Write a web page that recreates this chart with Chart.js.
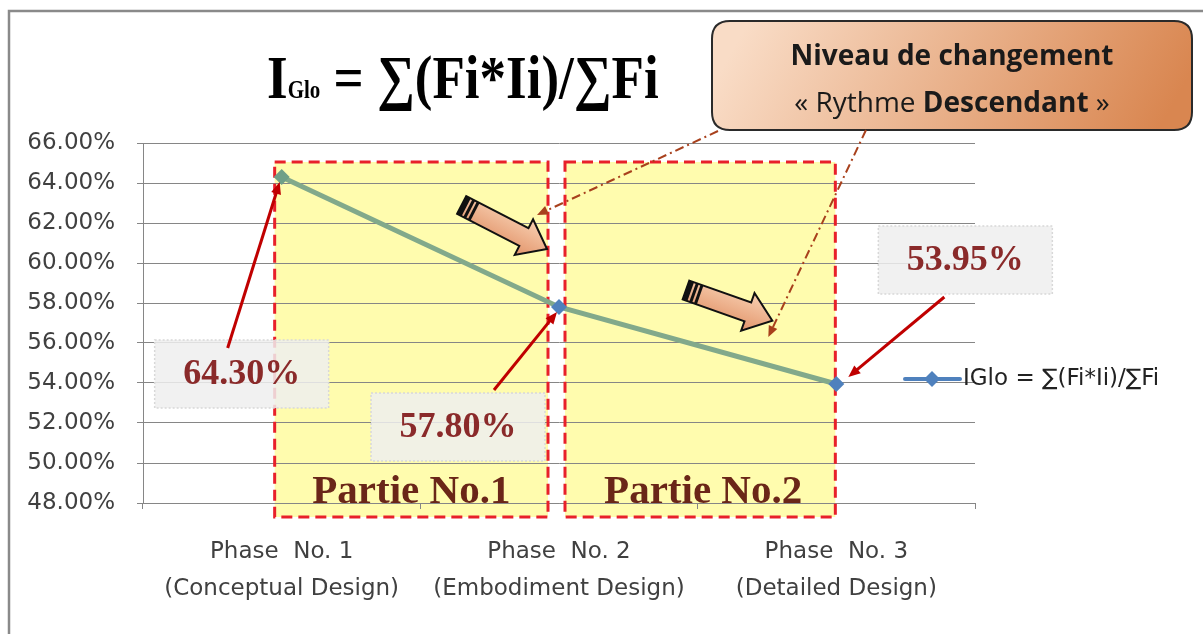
<!DOCTYPE html>
<html>
<head>
<meta charset="utf-8">
<script src="https://cdn.jsdelivr.net/npm/chart.js@4.4.1/dist/chart.umd.min.js"></script>
<style>
  html, body { margin: 0; padding: 0; background: #fff; }
  canvas { display: block; }
</style>
</head>
<body>
<canvas id="iglo" width="1203" height="634"></canvas>
<script>
// data
const phases = [
    ['Phase  No. 1', '(Conceptual Design)'],
    ['Phase  No. 2', '(Embodiment Design)'],
    ['Phase  No. 3', '(Detailed Design)']
];
const iGlo = [0.6430, 0.5780, 0.5395];
const yTicks = [0.48, 0.50, 0.52, 0.54, 0.56, 0.58, 0.60, 0.62, 0.64, 0.66];
const seriesName = 'IGlo = ∑(Fi*Ii)/∑Fi';
const parties = ['Partie No.1', 'Partie No.2'];
const calloutLines = ['Niveau de changement', '« Rythme ', 'Descendant', ' »'];

const pct = v => (v * 100).toFixed(2) + '%';
const axisFont = 'DejaVu Sans';

function arrowHead(ctx, x1, y1, x2, y2, size, color) {
    const a = Math.atan2(y2 - y1, x2 - x1);
    ctx.beginPath();
    ctx.moveTo(x2, y2);
    ctx.lineTo(x2 - size * Math.cos(a - 0.4), y2 - size * Math.sin(a - 0.4));
    ctx.lineTo(x2 - size * Math.cos(a + 0.4), y2 - size * Math.sin(a + 0.4));
    ctx.closePath();
    ctx.fillStyle = color;
    ctx.fill();
}

function lineArrow(ctx, x1, y1, x2, y2, color, width, dash, head) {
    ctx.save();
    ctx.strokeStyle = color;
    ctx.lineWidth = width;
    ctx.setLineDash(dash || []);
    const a = Math.atan2(y2 - y1, x2 - x1);
    ctx.beginPath();
    ctx.moveTo(x1, y1);
    ctx.lineTo(x2 - head * 0.7 * Math.cos(a), y2 - head * 0.7 * Math.sin(a));
    ctx.stroke();
    ctx.setLineDash([]);
    arrowHead(ctx, x1, y1, x2, y2, head, color);
    ctx.restore();
}

function blockArrow(ctx, x1, y1, x2, y2) {
    const a = Math.atan2(y2 - y1, x2 - x1);
    const L = Math.hypot(x2 - x1, y2 - y1);
    const w = 10, hw = 20, hl = 26;
    ctx.save();
    ctx.translate(x1, y1);
    ctx.rotate(a);
    const g = ctx.createLinearGradient(0, -hw, 0, hw);
    g.addColorStop(0, '#f8d0b2');
    g.addColorStop(1, '#e2946a');
    ctx.beginPath();
    ctx.moveTo(0, -w);
    ctx.lineTo(L - hl, -w);
    ctx.lineTo(L - hl, -hw);
    ctx.lineTo(L, 0);
    ctx.lineTo(L - hl, hw);
    ctx.lineTo(L - hl, w);
    ctx.lineTo(0, w);
    ctx.closePath();
    ctx.fillStyle = g;
    ctx.fill();
    ctx.lineWidth = 2;
    ctx.strokeStyle = '#111';
    ctx.stroke();
    ctx.fillStyle = '#111';
    ctx.fillRect(0, -w, 5, 2 * w);
    ctx.fillRect(7, -w, 3, 2 * w);
    ctx.fillRect(12, -w, 3, 2 * w);
    ctx.restore();
}

function roundRect(ctx, x, y, w, h, r) {
    ctx.beginPath();
    ctx.moveTo(x + r, y);
    ctx.lineTo(x + w - r, y);
    ctx.quadraticCurveTo(x + w, y, x + w, y + r);
    ctx.lineTo(x + w, y + h - r);
    ctx.quadraticCurveTo(x + w, y + h, x + w - r, y + h);
    ctx.lineTo(x + r, y + h);
    ctx.quadraticCurveTo(x, y + h, x, y + h - r);
    ctx.lineTo(x, y + r);
    ctx.quadraticCurveTo(x, y, x + r, y);
    ctx.closePath();
}

const decor = {
    id: 'decor',
    beforeDraw(chart) {
        const ctx = chart.ctx;
        const xs = chart.scales.x, ys = chart.scales.y;
        ctx.save();
        ctx.fillStyle = '#fff';
        ctx.fillRect(0, 0, chart.width, chart.height);
        // outer frame
        ctx.strokeStyle = '#8a8a8a';
        ctx.lineWidth = 2.5;
        ctx.beginPath();
        ctx.moveTo(9, chart.height + 5);
        ctx.lineTo(9, 11);
        ctx.lineTo(chart.width + 5, 11);
        ctx.stroke();
        // yellow parts
        const p0 = xs.getPixelForValue(0), p1 = xs.getPixelForValue(1), p2 = xs.getPixelForValue(2);
        const top = ys.getPixelForValue(0.6505), bot = chart.chartArea.bottom + 14;
        ctx.fillStyle = 'rgba(255, 251, 160, 0.85)';
        ctx.fillRect(p0 - 7, top, (p1 - 11) - (p0 - 7), bot - top);
        ctx.fillRect(p1 + 6, top, (p2 - 1) - (p1 + 6), bot - top);
        ctx.restore();
    },
    beforeDatasetsDraw(chart) {
        const ctx = chart.ctx;
        const xs = chart.scales.x, ys = chart.scales.y;
        const p0 = xs.getPixelForValue(0), p1 = xs.getPixelForValue(1), p2 = xs.getPixelForValue(2);
        const top = ys.getPixelForValue(0.6505), bot = chart.chartArea.bottom + 14;
        ctx.save();
        ctx.strokeStyle = '#e8202a';
        ctx.lineWidth = 3;
        ctx.setLineDash([11, 6]);
        ctx.strokeRect(p0 - 7, top, (p1 - 11) - (p0 - 7), bot - top);
        ctx.strokeRect(p1 + 6, top, (p2 - 1) - (p1 + 6), bot - top);
        ctx.restore();
    },
    afterDatasetsDraw(chart) {
        const ctx = chart.ctx;
        const xs = chart.scales.x, ys = chart.scales.y;
        const pts = chart.getDatasetMeta(0).data;
        const area = chart.chartArea;
        ctx.save();

        // Partie labels
        const p0 = xs.getPixelForValue(0), p1 = xs.getPixelForValue(1), p2 = xs.getPixelForValue(2);
        ctx.font = 'bold 41px "Liberation Serif"';
        ctx.fillStyle = '#6a2618';
        ctx.textAlign = 'center';
        ctx.textBaseline = 'alphabetic';
        ctx.fillText(parties[0], (p0 - 7 + p1 - 11) / 2, area.bottom);
        ctx.fillText(parties[1], (p1 + 6 + p2 - 1) / 2 + 3, area.bottom);

        // value label boxes (center x offset from point, center value on y axis)
        const boxes = [[-40, 0.5445], [-101, 0.518], [129, 0.6015]];
        const froms = [[-54, 0.5575], [-65, 0.5365], [108, 0.5830]];
        boxes.forEach((b, i) => {
            const cx = pts[i].x + b[0], cy = ys.getPixelForValue(b[1]);
            ctx.fillStyle = 'rgba(238, 238, 238, 0.85)';
            ctx.fillRect(cx - 87, cy - 34, 174, 68);
            ctx.strokeStyle = '#d8d8d8';
            ctx.lineWidth = 1.5;
            ctx.setLineDash([2, 2]);
            ctx.strokeRect(cx - 87, cy - 34, 174, 68);
            ctx.setLineDash([]);
            ctx.font = 'bold 36px "Liberation Serif"';
            ctx.fillStyle = '#8a2a2a';
            ctx.textAlign = 'center';
            ctx.textBaseline = 'middle';
            ctx.fillText(pct(iGlo[i]), cx, cy + 1);
            const f = froms[i];
            const fx = pts[i].x + f[0], fy = ys.getPixelForValue(f[1]);
            const tx = pts[i].x + (i === 2 ? 12 : -2), ty = pts[i].y + (i === 2 ? -7 : 5);
            lineArrow(ctx, fx, fy, tx, ty, '#c00000', 3, null, 13);
        });

        // block arrows
        blockArrow(ctx, p0 + 180, ys.getPixelForValue(0.6290), p1 - 12, ys.getPixelForValue(0.6070));
        blockArrow(ctx, p1 + 127, ys.getPixelForValue(0.5865), p2 - 64, ys.getPixelForValue(0.5712));

        // title (slightly stretched vertically like the source)
        ctx.save();
        ctx.translate(0, 98);
        ctx.scale(1, 1.15);
        ctx.fillStyle = '#000';
        ctx.textAlign = 'left';
        ctx.textBaseline = 'alphabetic';
        let tx = 267;
        ctx.font = 'bold 53px "Liberation Serif"';
        ctx.fillText('I', tx, 0);
        tx += ctx.measureText('I').width;
        ctx.font = 'bold 21px "Liberation Serif"';
        ctx.fillText('Glo', tx, 0);
        tx += ctx.measureText('Glo').width;
        ctx.font = 'bold 53px "Liberation Serif"';
        ctx.fillText(' = ∑(Fi*Ii)/∑Fi', tx, 0);
        ctx.restore();

        // callout
        const cg = ctx.createLinearGradient(760, 0, 1120, 200);
        cg.addColorStop(0, '#f9dcc6');
        cg.addColorStop(1, '#d98650');
        roundRect(ctx, 712, 21, 480, 109, 18);
        ctx.fillStyle = cg;
        ctx.fill();
        ctx.lineWidth = 2;
        ctx.strokeStyle = '#2a2a2a';
        ctx.stroke();
        ctx.fillStyle = '#1a1a1a';
        ctx.textAlign = 'center';
        ctx.textBaseline = 'middle';
        ctx.font = 'bold 28px "Open Sans"';
        ctx.fillText(calloutLines[0], 952, 57);
        ctx.font = '28px "Open Sans"';
        const wa = ctx.measureText(calloutLines[1]).width;
        const wc = ctx.measureText(calloutLines[3]).width;
        ctx.font = 'bold 28px "Open Sans"';
        const wb = ctx.measureText(calloutLines[2]).width;
        let lx = 952 - (wa + wb + wc) / 2;
        ctx.textAlign = 'left';
        ctx.font = '28px "Open Sans"';
        ctx.fillText(calloutLines[1], lx, 104);
        ctx.font = 'bold 28px "Open Sans"';
        ctx.fillText(calloutLines[2], lx + wa, 104);
        ctx.font = '28px "Open Sans"';
        ctx.fillText(calloutLines[3], lx + wa + wb, 104);

        // dash-dot pointers from the callout
        lineArrow(ctx, 718, 131, p1 - 22, ys.getPixelForValue(0.6240), '#a8401c', 2, [9, 4, 2, 4], 12);
        lineArrow(ctx, 866, 130, p2 - 68, ys.getPixelForValue(0.5630), '#a8401c', 2, [9, 4, 2, 4], 12);

        // legend
        const ly = ys.getPixelForValue(0.5420);
        ctx.strokeStyle = '#4f81bd';
        ctx.lineWidth = 4;
        ctx.lineCap = 'round';
        ctx.beginPath();
        ctx.moveTo(905, ly);
        ctx.lineTo(960, ly);
        ctx.stroke();
        ctx.fillStyle = '#4f81bd';
        ctx.beginPath();
        ctx.moveTo(932, ly - 8);
        ctx.lineTo(940, ly);
        ctx.lineTo(932, ly + 8);
        ctx.lineTo(924, ly);
        ctx.closePath();
        ctx.fill();
        ctx.fillStyle = '#222';
        ctx.font = '23px "' + axisFont + '"';
        ctx.textAlign = 'left';
        ctx.textBaseline = 'middle';
        ctx.fillText(seriesName, 963, ly);
        ctx.restore();
    }
};

new Chart(document.getElementById('iglo'), {
    type: 'line',
    data: {
        labels: phases,
        datasets: [{
            label: seriesName,
            data: iGlo,
            borderColor: '#82a98b',
            borderWidth: 5,
            pointStyle: 'rectRot',
            pointRadius: 8,
            pointBackgroundColor: ['#6f9f88', '#4f81bd', '#4f81bd'],
            pointBorderWidth: 0,
            tension: 0
        }]
    },
    options: {
        responsive: false,
        animation: false,
        layout: { padding: { top: 143, right: 228, left: 0, bottom: 0 } },
        plugins: {
            legend: { display: false },
            tooltip: { enabled: false }
        },
        scales: {
            x: {
                offset: true,
                grid: { offset: true, drawOnChartArea: false, drawTicks: true, tickLength: 6, color: '#868686' },
                border: { color: '#868686' },
                ticks: {
                    padding: 24,
                    maxRotation: 0,
                    color: '#404040',
                    font: { family: axisFont, size: 23, lineHeight: 1.63 }
                },
                afterFit: scale => { scale.height = 131; }
            },
            y: {
                min: 0.48,
                max: 0.66,
                afterBuildTicks: scale => { scale.ticks = yTicks.map(v => ({ value: v })); },
                grid: { color: '#868686', tickLength: 6 },
                border: { color: '#868686' },
                ticks: {
                    padding: 22,
                    color: '#404040',
                    font: { family: axisFont, size: 23 },
                    callback: v => pct(v)
                },
                afterFit: scale => { scale.width = 143; }
            }
        }
    },
    plugins: [decor]
});
</script>
</body>
</html>
